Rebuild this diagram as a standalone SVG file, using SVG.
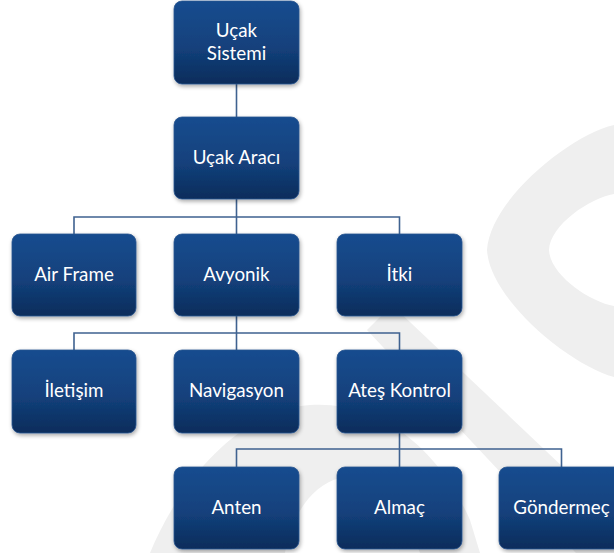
<svg xmlns="http://www.w3.org/2000/svg" width="614" height="553" viewBox="0 0 614 553">
<style>
.box{fill:url(#g);stroke:#2a568f;stroke-width:0.8;filter:url(#sh)}
.t{font-family:Lato,"Open Sans","Noto Sans",sans-serif;font-size:18.8px;fill:#ffffff;text-anchor:middle}
.c{fill:none;stroke:#3f6290;stroke-width:1.6}
.wm{fill:#efefef;fill-rule:evenodd}
</style>
<defs>
<linearGradient id="g" x1="0" y1="0" x2="0" y2="1">
<stop offset="0" stop-color="#174c8f"/>
<stop offset="0.55" stop-color="#13417c"/>
<stop offset="1" stop-color="#0b2c5b"/>
</linearGradient>
<filter id="sh" x="-10%" y="-10%" width="125%" height="130%">
<feGaussianBlur in="SourceAlpha" stdDeviation="2"/>
<feOffset dx="1" dy="2" result="b"/>
<feComponentTransfer><feFuncA type="linear" slope="0.35"/></feComponentTransfer>
<feMerge><feMergeNode/><feMergeNode in="SourceGraphic"/></feMerge>
</filter>
</defs>
<rect width="614" height="553" fill="#ffffff"/>
<g id="watermark">
<path class="wm" d="M700,125 L614,125 C570,135 490,200 487,250 C490,300 570,365 614,377 L700,377 Z M700,194 L614,194 C590,198 550,225 549,250 C550,275 590,302 614,306 L700,306 Z"/>
<path class="wm" d="M367,330 L392,305 L640,540 L640,600 L620,600 Z"/>
<path class="wm" d="M150,553 C180,480 240,410 310,405 C380,400 440,450 470,520 L480,553 Z M285,553 C290,520 310,485 340,478 C370,475 400,500 420,553 Z"/>
</g>
<g id="connectors">
<path class="c" d="M236.5,84 V117"/>
<path class="c" d="M236.5,199 V234 M74,234 V217 H399.5 V234"/>
<path class="c" d="M236.5,316 V350 M74,350 V333 H399.5 V350"/>
<path class="c" d="M399.5,433 V467 M236.5,467 V449 H561.5 V467"/>
</g>
<g id="n-ucak-sistemi"><rect class="box" x="174" y="1" width="125" height="83" rx="8"/><text class="t" x="236.5" y="37">Uçak</text><text class="t" x="236.5" y="60">Sistemi</text></g>
<g id="n-ucak-araci"><rect class="box" x="174" y="117" width="125" height="82" rx="8"/><text class="t" x="236.5" y="164">Uçak Aracı</text></g>
<g id="n-air-frame"><rect class="box" x="12" y="234" width="124" height="82" rx="8"/><text class="t" x="74" y="281">Air Frame</text></g>
<g id="n-avyonik"><rect class="box" x="174" y="234" width="125" height="82" rx="8"/><text class="t" x="236.5" y="281">Avyonik</text></g>
<g id="n-itki"><rect class="box" x="337" y="234" width="125" height="82" rx="8"/><text class="t" x="399.5" y="281">İtki</text></g>
<g id="n-iletisim"><rect class="box" x="12" y="350" width="124" height="83" rx="8"/><text class="t" x="74" y="397">İletişim</text></g>
<g id="n-navigasyon"><rect class="box" x="174" y="350" width="125" height="83" rx="8"/><text class="t" x="236.5" y="397">Navigasyon</text></g>
<g id="n-ates-kontrol"><rect class="box" x="337" y="350" width="125" height="83" rx="8"/><text class="t" x="399.5" y="397">Ateş Kontrol</text></g>
<g id="n-anten"><rect class="box" x="174" y="467" width="125" height="82" rx="8"/><text class="t" x="236.5" y="514">Anten</text></g>
<g id="n-almac"><rect class="box" x="337" y="467" width="125" height="82" rx="8"/><text class="t" x="399.5" y="514">Almaç</text></g>
<g id="n-gondermec"><rect class="box" x="499" y="467" width="125" height="82" rx="8"/><text class="t" x="561.5" y="514">Göndermeç</text></g>
</svg>
